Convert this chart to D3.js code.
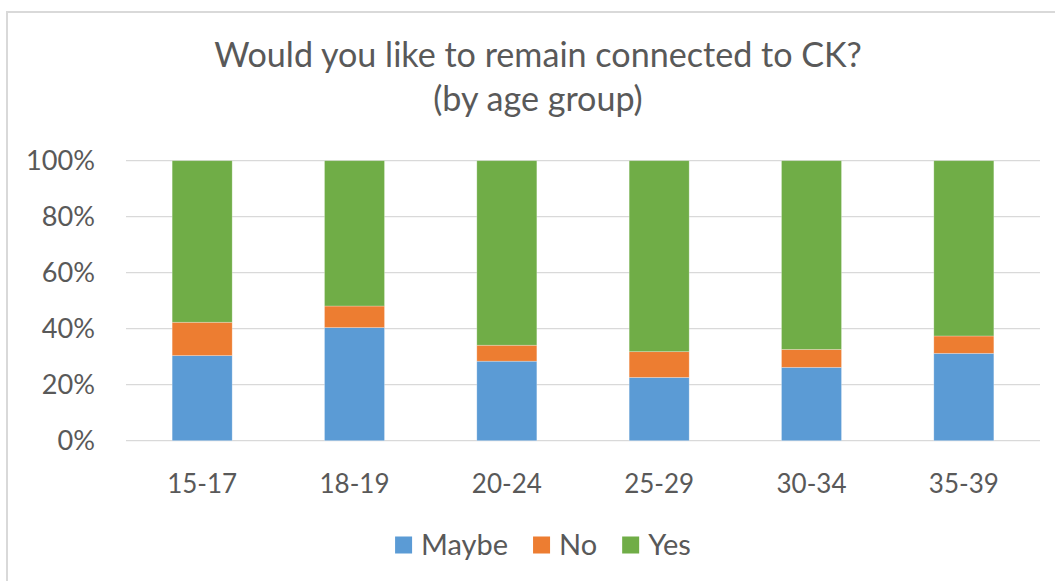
<!DOCTYPE html>
<html><head><meta charset="utf-8">
<script src="https://cdn.jsdelivr.net/npm/d3@7"></script>
<style>body{margin:0;background:#fff} svg{display:block}</style>
</head><body><svg id="c" width="1055" height="581"></svg>
<script>
const categories = ["15-17","18-19","20-24","25-29","30-34","35-39"];
const seriesNames = ["Maybe","No","Yes"];
const maybe = [30.4, 40.4, 28.4, 22.6, 26.2, 31.2];
const no    = [11.9, 7.7, 5.7, 9.2, 6.4, 6.2];
const yes   = [57.7, 51.9, 65.9, 68.2, 67.4, 62.6];
const yTicks = [0, 20, 40, 60, 80, 100];
const titleLines = ["Would you like to remain connected to CK?", "(by age group)"];
const colors = ["#5B9BD5", "#ED7D31", "#70AD47"];

const FONT = "Lato, 'Open Sans', sans-serif";
const TXT = "#595959";
const svg = d3.select("#c");

function fitSize(text, target){
  const t = svg.append("text").attr("font-family", FONT).attr("font-size", 100).text(text);
  const w = t.node().getComputedTextLength();
  t.remove();
  return 100 * target / w;
}

// chart border
svg.append("rect").attr("x", 7).attr("y", 12).attr("width", 1200).attr("height", 700)
  .attr("fill", "none").attr("stroke", "#d9d9d9").attr("stroke-width", 2);

const table = categories.map((c, i) => ({cat: c, Maybe: maybe[i], No: no[i], Yes: yes[i]}));
const stacked = d3.stack().keys(seriesNames)(table);

const x = d3.scaleBand().domain(categories).range([126, 1040]).paddingInner(0.606).paddingOuter(0.303);
const y = d3.scaleLinear().domain([0, 100]).range([440.7, 160.7]);

// gridlines
svg.append("g").selectAll("line").data(yTicks).join("line")
  .attr("x1", 126).attr("x2", 1040)
  .attr("y1", d => y(d)).attr("y2", d => y(d))
  .attr("stroke", "#d9d9d9").attr("stroke-width", 1.3);

// y tick labels
const tickSize = fitSize("100%", 69);
svg.append("g").selectAll("text").data(yTicks).join("text")
  .attr("x", 95).attr("y", d => y(d)).attr("dy", "0.36em")
  .attr("text-anchor", "end").attr("font-family", FONT).attr("font-size", tickSize)
  .attr("fill", TXT).text(d => d + "%");

// bars
svg.append("g").selectAll("g").data(stacked).join("g")
  .attr("fill", (d, i) => colors[i])
  .selectAll("rect").data(d => d).join("rect")
  .attr("x", d => x(d.data.cat)).attr("width", x.bandwidth())
  .attr("y", d => y(d[1])).attr("height", d => y(d[0]) - y(d[1]))
  .attr("stroke", "#ffffff").attr("stroke-opacity", 0.35).attr("stroke-width", 0.75);

// category labels
const catSize = fitSize("15-17", 70);
svg.append("g").selectAll("text").data(categories).join("text")
  .attr("x", d => x(d) + x.bandwidth() / 2).attr("y", 493)
  .attr("text-anchor", "middle").attr("font-family", FONT).attr("font-size", catSize)
  .attr("fill", TXT).text(d => d);

// title
const titleSize = fitSize(titleLines[0], 648);
svg.append("g").selectAll("text").data(titleLines).join("text")
  .attr("x", 538).attr("y", (d, i) => 67 + i * 44)
  .attr("text-anchor", "middle").attr("font-family", FONT).attr("font-size", titleSize)
  .attr("fill", TXT).text(d => d);

// legend
const legSize = fitSize("Maybe", 87);
const sq = 17, gap = 9, sep = 25;
const lg = svg.append("g");
const widths = seriesNames.map(n => {
  const t = lg.append("text").attr("font-family", FONT).attr("font-size", legSize).text(n);
  const w = t.node().getComputedTextLength(); t.remove(); return w;
});
const total = d3.sum(widths) + seriesNames.length * (sq + gap) + (seriesNames.length - 1) * sep;
let cx = 543 - total / 2;
const ly = 545;
seriesNames.forEach((n, i) => {
  lg.append("rect").attr("x", cx).attr("y", ly - sq / 2).attr("width", sq).attr("height", sq).attr("fill", colors[i]);
  lg.append("text").attr("x", cx + sq + gap).attr("y", ly).attr("dy", "0.36em")
    .attr("font-family", FONT).attr("font-size", legSize).attr("fill", TXT).text(n);
  cx += sq + gap + widths[i] + sep;
});
</script></body></html>
